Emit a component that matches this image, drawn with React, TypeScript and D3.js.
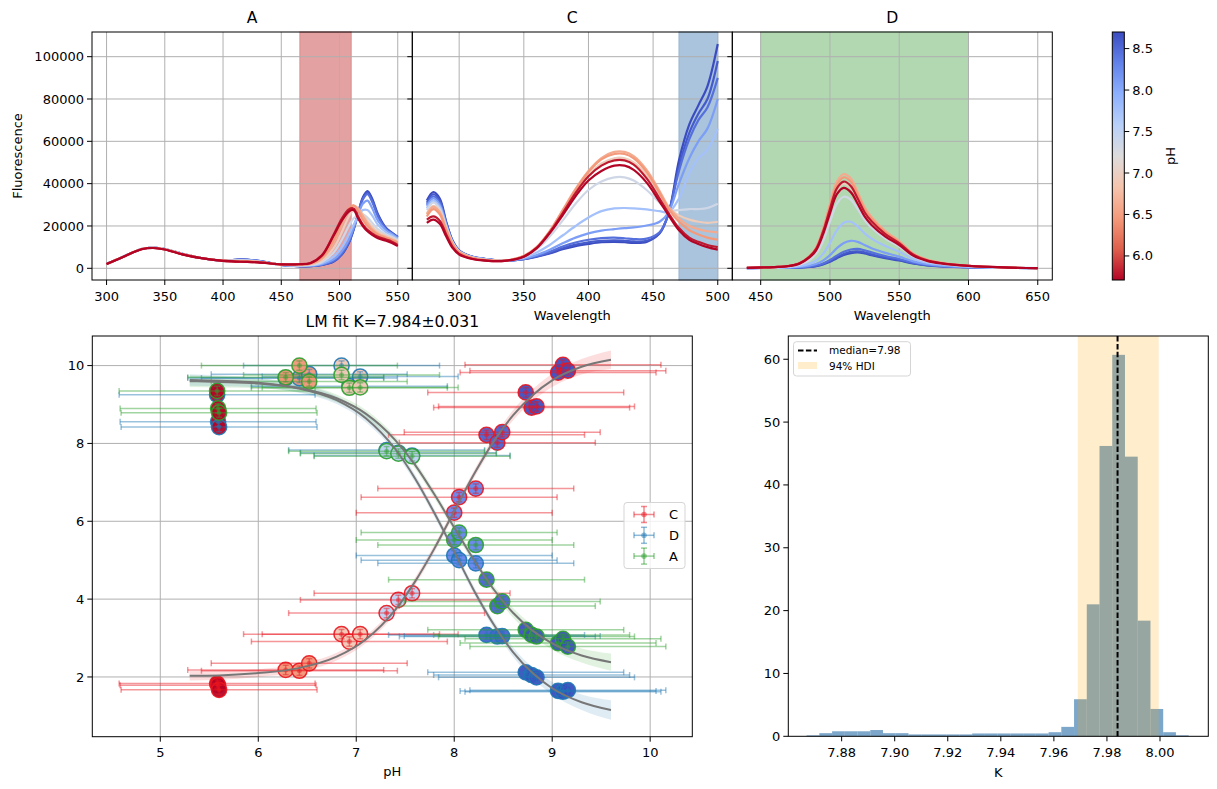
import React from "react";
import * as d3 from "d3";

const FONT = "'DejaVu Sans', Verdana, sans-serif";

// ---------- spectra (fluorescence, thousands) ----------
// pH of each spectrum line, same order in all three panels
const LINE_PH = [5.71, 5.8, 6.45, 6.6, 6.95, 7.35, 7.75, 8.1, 8.45, 8.6, 8.7];

const WL_A = [300, 315, 330, 340, 350, 365, 380, 400, 415, 430, 450, 465, 475, 485, 495, 502, 508, 512, 516, 520, 524, 528, 533, 540, 545, 550];
const SPEC_A = [
  [2.0, 5.6, 9.0, 9.6, 8.9, 6.6, 4.9, 3.5, 3.1, 2.8, 1.9, 1.9, 2.4, 6.0, 15.5, 22.5, 26.8, 27.5, 23.5, 20.0, 17.5, 15.8, 14.2, 13.0, 12.0, 10.5],
  [2.0, 5.6, 9.0, 9.6, 8.9, 6.6, 4.9, 3.5, 3.1, 2.8, 1.9, 1.9, 2.5, 6.3, 16.0, 23.5, 27.8, 28.3, 24.5, 20.8, 18.2, 16.5, 14.9, 13.6, 12.6, 11.0],
  [2.0, 5.6, 9.1, 9.7, 9.0, 6.7, 5.0, 3.6, 3.3, 3.0, 1.8, 1.8, 2.2, 5.2, 13.5, 22.0, 28.3, 29.7, 27.0, 23.0, 20.0, 17.8, 15.8, 14.3, 13.3, 12.0],
  [2.0, 5.6, 9.1, 9.7, 9.0, 6.7, 5.0, 3.6, 3.4, 3.0, 1.8, 1.7, 2.1, 4.6, 12.0, 20.5, 27.5, 29.6, 28.3, 24.8, 21.3, 18.6, 16.4, 14.7, 13.6, 12.3],
  [2.0, 5.6, 9.1, 9.7, 9.0, 6.7, 5.0, 3.6, 3.5, 3.1, 1.7, 1.5, 1.8, 3.8, 9.5, 17.0, 24.5, 27.5, 27.8, 25.5, 22.5, 19.8, 17.3, 15.3, 14.2, 12.8],
  [2.0, 5.6, 9.1, 9.8, 9.1, 6.8, 5.0, 3.6, 3.7, 3.2, 1.7, 1.4, 1.6, 3.0, 7.5, 13.5, 20.0, 23.5, 25.0, 25.5, 24.0, 21.5, 18.5, 16.0, 14.8, 13.2],
  [2.0, 5.6, 9.1, 9.8, 9.1, 6.8, 5.0, 3.6, 3.9, 3.3, 1.6, 1.2, 1.4, 2.4, 5.5, 10.0, 16.0, 20.5, 24.5, 27.5, 27.5, 25.0, 20.5, 17.0, 15.5, 13.8],
  [2.0, 5.6, 9.1, 9.8, 9.1, 6.8, 5.0, 3.6, 4.0, 3.4, 1.6, 1.1, 1.2, 2.0, 4.2, 8.0, 13.5, 19.0, 25.0, 30.5, 32.0, 28.5, 22.5, 18.0, 16.2, 14.3],
  [2.0, 5.6, 9.1, 9.8, 9.1, 6.8, 5.0, 3.6, 4.1, 3.5, 1.6, 1.0, 1.1, 1.7, 3.5, 7.0, 12.5, 18.5, 26.0, 32.5, 35.0, 31.5, 24.5, 18.5, 16.5, 14.6],
  [2.0, 5.6, 9.1, 9.8, 9.1, 6.8, 5.0, 3.6, 4.15, 3.5, 1.6, 1.0, 1.05, 1.65, 3.3, 6.7, 12.2, 18.2, 26.0, 33.0, 35.8, 32.3, 25.0, 18.8, 16.6, 14.7],
  [2.0, 5.6, 9.1, 9.8, 9.1, 6.8, 5.0, 3.6, 4.2, 3.5, 1.6, 1.0, 1.0, 1.6, 3.2, 6.5, 12.0, 18.0, 26.0, 33.5, 36.5, 33.0, 25.5, 19.0, 16.8, 14.8],
];

const WL_C = [275, 280, 285, 290, 295, 300, 310, 320, 335, 350, 360, 370, 380, 390, 400, 410, 420, 428, 435, 445, 455, 462, 470, 478, 485, 492, 500];
const SPEC_C = [
  [21.5, 23.0, 21.0, 15.0, 9.5, 6.5, 4.4, 3.6, 3.5, 5.5, 9.5, 16.5, 25.0, 34.0, 41.5, 46.0, 48.5, 48.5, 46.5, 40.5, 31.5, 25.0, 18.0, 13.5, 11.5, 10.0, 8.8],
  [23.0, 24.5, 22.5, 16.0, 10.0, 6.8, 4.5, 3.7, 3.5, 5.6, 9.7, 17.0, 26.0, 35.5, 43.5, 48.5, 51.0, 51.0, 49.0, 42.5, 33.0, 26.0, 19.0, 14.5, 12.5, 11.0, 10.0],
  [24.5, 28.0, 25.5, 18.0, 11.2, 7.5, 4.9, 3.9, 3.6, 5.8, 10.0, 17.5, 27.0, 37.0, 45.5, 51.5, 54.0, 54.0, 52.0, 45.5, 35.5, 28.0, 22.0, 18.0, 16.0, 14.5, 13.5],
  [25.5, 29.0, 26.5, 18.5, 11.5, 7.6, 5.0, 4.0, 3.6, 5.8, 10.0, 17.5, 27.5, 37.5, 46.0, 52.0, 55.0, 55.0, 53.0, 46.5, 36.5, 29.0, 23.5, 20.0, 18.5, 17.5, 17.0],
  [26.0, 29.5, 27.0, 19.0, 11.8, 7.8, 5.0, 4.0, 3.6, 5.7, 9.8, 17.0, 26.5, 36.0, 44.0, 49.5, 52.0, 52.0, 50.0, 44.0, 35.0, 28.5, 25.0, 23.0, 22.0, 21.5, 22.0],
  [27.5, 31.0, 28.0, 19.5, 12.0, 8.0, 5.2, 4.2, 3.6, 5.5, 9.0, 15.0, 22.5, 30.5, 37.0, 41.0, 43.0, 43.0, 41.5, 37.0, 31.0, 27.5, 27.5, 28.0, 28.0, 28.5, 30.5],
  [28.5, 32.0, 29.0, 20.0, 12.0, 8.0, 5.3, 4.3, 3.6, 5.0, 7.5, 11.0, 15.5, 20.0, 24.0, 27.0, 28.3, 28.5, 28.3, 27.8, 27.0, 26.5, 33.0, 45.0, 52.0, 56.0, 66.0],
  [29.5, 33.0, 30.0, 20.5, 12.3, 8.0, 5.3, 4.3, 3.6, 4.6, 6.3, 8.8, 11.8, 14.5, 16.5, 17.8, 18.5, 19.0, 19.3, 20.2, 22.0, 26.5, 40.0, 52.0, 60.0, 66.0, 80.0],
  [30.0, 34.0, 31.0, 21.0, 12.5, 8.2, 5.4, 4.4, 3.6, 4.4, 5.8, 7.8, 10.3, 12.2, 13.5, 14.3, 14.5, 14.2, 13.8, 14.0, 17.0, 26.0, 46.0, 61.0, 70.0, 76.0, 90.0],
  [31.0, 35.0, 32.0, 21.5, 12.8, 8.3, 5.4, 4.4, 3.6, 4.3, 5.6, 7.3, 9.5, 11.2, 12.3, 13.0, 13.2, 13.0, 12.7, 13.0, 16.5, 26.0, 48.0, 64.0, 73.0, 80.0, 98.0],
  [32.0, 36.0, 33.0, 22.0, 13.0, 8.5, 5.5, 4.5, 3.6, 4.3, 5.5, 7.0, 9.0, 10.5, 11.5, 12.3, 12.5, 12.3, 12.0, 12.5, 16.5, 26.0, 51.0, 68.0, 77.0, 86.0, 106.0],
];

const WL_D = [440, 460, 470, 478, 485, 490, 495, 500, 505, 510, 515, 520, 525, 530, 540, 550, 560, 570, 580, 600, 625, 650];
const SPEC_D = [
  [0.2, 0.6, 1.0, 2.2, 5.0, 8.5, 16.0, 26.0, 35.0, 38.0, 36.0, 30.5, 24.5, 20.5, 15.0, 11.0, 6.0, 3.5, 2.3, 1.1, 0.4, 0.1],
  [0.2, 0.6, 1.1, 2.4, 5.4, 9.2, 17.3, 28.0, 37.8, 41.0, 38.9, 33.0, 26.5, 22.2, 16.2, 11.9, 6.5, 3.8, 2.5, 1.2, 0.4, 0.1],
  [0.2, 0.6, 1.1, 2.4, 5.5, 9.5, 18.0, 29.5, 39.5, 43.0, 41.0, 35.0, 28.0, 23.5, 17.0, 12.5, 6.8, 4.0, 2.6, 1.2, 0.4, 0.1],
  [0.2, 0.6, 1.1, 2.5, 5.6, 9.8, 18.5, 30.5, 41.0, 44.5, 42.5, 36.0, 29.0, 24.3, 17.6, 12.9, 7.0, 4.1, 2.7, 1.2, 0.4, 0.1],
  [0.2, 0.5, 1.0, 2.2, 5.0, 8.8, 16.5, 27.5, 37.0, 40.0, 38.2, 32.5, 26.2, 22.0, 16.0, 11.7, 6.4, 3.7, 2.4, 1.1, 0.4, 0.1],
  [0.1, 0.4, 0.8, 1.7, 3.8, 6.8, 12.8, 22.0, 30.5, 33.8, 32.5, 28.0, 22.8, 19.2, 14.0, 10.3, 5.7, 3.3, 2.2, 1.0, 0.3, 0.1],
  [0.1, 0.3, 0.5, 1.0, 2.1, 3.6, 6.8, 12.0, 18.0, 21.5, 22.0, 19.8, 16.5, 14.0, 10.5, 7.8, 4.5, 2.7, 1.8, 0.8, 0.3, 0.1],
  [0.1, 0.2, 0.3, 0.6, 1.2, 2.0, 3.6, 6.2, 9.5, 12.0, 13.0, 12.5, 11.0, 9.5, 7.3, 5.5, 3.3, 2.0, 1.3, 0.6, 0.2, 0.1],
  [0.1, 0.2, 0.3, 0.4, 0.8, 1.3, 2.3, 3.9, 6.0, 7.8, 8.9, 9.2, 8.5, 7.5, 5.8, 4.4, 2.7, 1.6, 1.1, 0.5, 0.2, 0.1],
  [0.1, 0.2, 0.2, 0.4, 0.7, 1.1, 2.0, 3.4, 5.2, 6.8, 7.8, 8.0, 7.5, 6.6, 5.1, 3.9, 2.4, 1.5, 1.0, 0.5, 0.2, 0.1],
  [0.1, 0.2, 0.2, 0.3, 0.6, 1.0, 1.8, 3.1, 4.8, 6.3, 7.2, 7.5, 7.0, 6.2, 4.8, 3.7, 2.3, 1.4, 0.9, 0.4, 0.2, 0.1],
];

const SPAN_A = [466, 510];
const SPAN_C = [470, 500];
const SPAN_D = [450, 600];

const TICKS_A = [300, 350, 400, 450, 500, 550];
const TICKS_C = [300, 350, 400, 450, 500];
const TICKS_D = [450, 500, 550, 600, 650];
const TICKS_FLUO = [0, 20, 40, 60, 80, 100]; // thousands
const TICKS_CB = [6.0, 6.5, 7.0, 7.5, 8.0, 8.5];

// ---------- titration points ----------
const PH_X = [5.58, 5.59, 5.6, 6.28, 6.42, 6.52, 6.85, 6.93, 7.04, 7.31, 7.43, 7.57, 8.0, 8.05, 8.22, 8.33, 8.44, 8.49, 8.73, 8.79, 8.84, 9.06, 9.11, 9.16];
const PH_NOMINAL = [5.71, 5.71, 5.71, 6.43, 6.43, 6.43, 6.9, 6.9, 6.9, 7.5, 7.5, 7.5, 8.3, 8.3, 8.3, 8.55, 8.55, 8.55, 8.68, 8.68, 8.68, 8.7, 8.7, 8.7];
const C_Y = [1.83, 1.79, 1.67, 2.18, 2.16, 2.35, 3.1, 2.91, 3.1, 3.64, 3.98, 4.15, 6.22, 6.62, 6.84, 8.22, 8.02, 8.29, 9.31, 8.92, 8.95, 9.82, 10.02, 9.87];
const D_Y = [9.25, 8.56, 8.42, 9.68, 9.68, 9.78, 10.0, 9.47, 9.72, 7.83, 7.76, 7.69, 5.12, 5.0, 4.92, 3.08, 3.04, 3.05, 2.12, 2.05, 1.99, 1.64, 1.62, 1.66];
const A_Y = [9.35, 8.9, 8.79, 9.7, 10.0, 9.59, 9.76, 9.43, 9.44, 7.8, 7.74, 7.67, 5.52, 5.71, 5.39, 4.5, 3.82, 3.94, 3.21, 3.08, 3.04, 2.87, 2.98, 2.78];
const X_ERR = 1.0;
const Y_ERR = 0.12;

// fitted curves and their bands
const FIT_X = [5.3, 5.6, 6.0, 6.4, 6.8, 7.1, 7.4, 7.6, 7.8, 8.0, 8.2, 8.4, 8.6, 8.8, 9.0, 9.3, 9.6];
const FIT_C = [2.03, 2.04, 2.1, 2.22, 2.52, 2.97, 3.73, 4.45, 5.31, 6.26, 7.2, 8.04, 8.72, 9.24, 9.62, 9.97, 10.15];
const FIT_D = [9.63, 9.61, 9.56, 9.42, 9.11, 8.64, 7.85, 7.1, 6.2, 5.22, 4.23, 3.36, 2.64, 2.1, 1.71, 1.35, 1.15];
const FIT_A = [9.6, 9.58, 9.54, 9.43, 9.16, 8.76, 8.08, 7.45, 6.68, 5.84, 5.01, 4.26, 3.65, 3.19, 2.86, 2.55, 2.38];
const BAND_C = [0.12, 0.11, 0.1, 0.1, 0.1, 0.1, 0.1, 0.1, 0.1, 0.1, 0.1, 0.11, 0.13, 0.15, 0.17, 0.2, 0.24];
const BAND_D = [0.15, 0.14, 0.12, 0.11, 0.1, 0.1, 0.1, 0.1, 0.1, 0.1, 0.1, 0.1, 0.12, 0.14, 0.16, 0.2, 0.25];
const BAND_A = [0.15, 0.14, 0.12, 0.11, 0.1, 0.1, 0.1, 0.1, 0.1, 0.1, 0.1, 0.1, 0.12, 0.14, 0.16, 0.18, 0.22];

const TICKS_PH = [5, 6, 7, 8, 9, 10];
const TICKS_SIG = [2, 4, 6, 8, 10];

// ---------- posterior of K ----------
const BIN_START = 7.8668;
const BIN_WIDTH = 0.0048;
const K_COUNTS = [0.15, 0.5, 0.8, 0.8, 0.8, 1.0, 0.5, 0.5, 0.3, 0.3, 0.3, 0.3, 0.3, 0.45, 0.45, 0.45, 0.45, 0.45, 0.45, 0.65, 1.5, 5.9, 21.0, 46.2, 60.7, 44.5, 18.4, 4.35, 0.65, 0.15];
const K_MEDIAN = 7.984;
const K_HDI = [7.969, 7.9995];
const TICKS_K = [7.88, 7.9, 7.92, 7.94, 7.96, 7.98, 8.0];
const TICKS_DENS = [0, 10, 20, 30, 40, 50, 60];

// ---------- colours ----------
const CW_STOPS = ["#3b4cc0", "#6282ea", "#8db0fe", "#b8d0f9", "#dddcdc", "#f5c4ad", "#f49a7b", "#de604d", "#b40426"];
const coolwarm = d3
  .scaleLinear<string>()
  .domain(d3.range(9).map((i) => i / 8))
  .range(CW_STOPS)
  .interpolate(d3.interpolateRgb)
  .clamp(true);
const CB_MIN = 5.71;
const CB_MAX = 8.7;
const phColor = (ph: number) => coolwarm(1 - (ph - CB_MIN) / (CB_MAX - CB_MIN));

const GRID = "#b0b0b0";
const TICK_FS = 13;

// ---------- layout ----------
const TOP_Y0 = 32;
const TOP_Y1 = 280;
const yTop = d3.scaleLinear().domain([-5.53, 111.66]).range([TOP_Y1, TOP_Y0]);

const SpectraPanel = ({ left, right, domain, wl, spec, span, spanFill, spanEdge, ticks, title, showY, xLabel }: any) => {
  const x = d3.scaleLinear().domain(domain).range([left, right]);
  const line = d3
    .line<number>()
    .x((_, i) => x(wl[i]))
    .y((d) => yTop(d))
    .curve(d3.curveCatmullRom.alpha(0.5));
  const order = d3.range(LINE_PH.length).reverse();
  return (
    <g>
      <rect x={x(span[0])} y={TOP_Y0} width={x(span[1]) - x(span[0])} height={TOP_Y1 - TOP_Y0} fill={spanFill} stroke={spanEdge} strokeWidth={1} />
      {ticks.map((t: number) => (
        <line key={"gx" + t} x1={x(t)} x2={x(t)} y1={TOP_Y0} y2={TOP_Y1} stroke={GRID} strokeWidth={1} />
      ))}
      {TICKS_FLUO.map((t) => (
        <line key={"gy" + t} x1={left} x2={right} y1={yTop(t)} y2={yTop(t)} stroke={GRID} strokeWidth={1} />
      ))}
      {order.map((i) => (
        <path key={i} d={line(spec[i]) || ""} fill="none" stroke={phColor(LINE_PH[i])} strokeWidth={2.2} strokeLinejoin="round" />
      ))}
      <rect x={left} y={TOP_Y0} width={right - left} height={TOP_Y1 - TOP_Y0} fill="none" stroke="#000" strokeWidth={1} />
      {ticks.map((t: number) => (
        <g key={"tx" + t}>
          <line x1={x(t)} x2={x(t)} y1={TOP_Y1} y2={TOP_Y1 + 5} stroke="#000" />
          <text x={x(t)} y={TOP_Y1 + 16} dy="0.35em" textAnchor="middle" fontSize={TICK_FS}>
            {t}
          </text>
        </g>
      ))}
      {TICKS_FLUO.map((t) => (
        <g key={"ty" + t}>
          <line x1={left - 5} x2={left} y1={yTop(t)} y2={yTop(t)} stroke="#000" />
          {showY && (
            <text x={left - 8} y={yTop(t)} dy="0.35em" textAnchor="end" fontSize={TICK_FS}>
              {t * 1000}
            </text>
          )}
        </g>
      ))}
      <text x={(left + right) / 2} y={TOP_Y0 - 14} dy="0.35em" textAnchor="middle" fontSize={15.6}>
        {title}
      </text>
      {xLabel && (
        <text x={(left + right) / 2} y={TOP_Y1 + 35} dy="0.35em" textAnchor="middle" fontSize={TICK_FS}>
          {xLabel}
        </text>
      )}
    </g>
  );
};

const Colorbar = () => {
  const x0 = 1112.3;
  const x1 = 1124.3;
  const y = d3.scaleLinear().domain([CB_MIN, CB_MAX]).range([TOP_Y1, TOP_Y0]);
  return (
    <g>
      <defs>
        <linearGradient id="cbgrad" x1="0" y1="1" x2="0" y2="0">
          {CW_STOPS.map((_, k) => (
            <stop key={k} offset={k / 8} stopColor={CW_STOPS[8 - k]} />
          ))}
        </linearGradient>
      </defs>
      <rect x={x0} y={TOP_Y0} width={x1 - x0} height={TOP_Y1 - TOP_Y0} fill="url(#cbgrad)" stroke="#000" strokeWidth={1} />
      {TICKS_CB.map((t) => (
        <g key={t}>
          <line x1={x1} x2={x1 + 5} y1={y(t)} y2={y(t)} stroke="#000" />
          <text x={x1 + 8} y={y(t)} dy="0.35em" fontSize={TICK_FS}>
            {t.toFixed(1)}
          </text>
        </g>
      ))}
      <text transform={`translate(1170,${(TOP_Y0 + TOP_Y1) / 2}) rotate(-90)`} dy="0.35em" textAnchor="middle" fontSize={TICK_FS}>
        pH
      </text>
    </g>
  );
};

const SERIES = [
  { name: "C", color: "#e8161f", y: C_Y, fit: FIT_C, band: BAND_C },
  { name: "D", color: "#1f77b4", y: D_Y, fit: FIT_D, band: BAND_D },
  { name: "A", color: "#2ca02c", y: A_Y, fit: FIT_A, band: BAND_A },
];

const Titration = () => {
  const L = 92.3, R = 692.3, T = 336, B = 736.7;
  const x = d3.scaleLinear().domain([4.306, 10.43]).range([L, R]);
  const y = d3.scaleLinear().domain([0.465, 10.76]).range([B, T]);
  const fitLine = (ys: number[]) =>
    d3.line<number>().x((_, i) => x(FIT_X[i])).y((d) => y(d)).curve(d3.curveMonotoneX)(ys) || "";
  const band = (ys: number[], hw: number[]) =>
    d3
      .area<number>()
      .x((_, i) => x(FIT_X[i]))
      .y0((d, i) => y(d - hw[i]))
      .y1((d, i) => y(d + hw[i]))
      .curve(d3.curveMonotoneX)(ys) || "";
  const cap = 3;
  return (
    <g>
      {TICKS_PH.map((t) => (
        <line key={"gx" + t} x1={x(t)} x2={x(t)} y1={T} y2={B} stroke={GRID} />
      ))}
      {TICKS_SIG.map((t) => (
        <line key={"gy" + t} x1={L} x2={R} y1={y(t)} y2={y(t)} stroke={GRID} />
      ))}
      {SERIES.map((s) => (
        <path key={"b" + s.name} d={band(s.fit, s.band)} fill={s.color} fillOpacity={0.14} />
      ))}
      {SERIES.map((s) => (
        <g key={"pts" + s.name}>
          {PH_X.map((px, i) => (
            <circle key={i} cx={x(px)} cy={y(s.y[i])} r={7.6} fill={phColor(PH_NOMINAL[i])} fillOpacity={0.95} stroke={s.color} strokeOpacity={0.9} strokeWidth={1.5} />
          ))}
          {PH_X.map((px, i) => {
            const cx = x(px);
            const cy = y(s.y[i]);
            const xa = x(px - X_ERR);
            const xb = x(px + X_ERR);
            const ya = y(s.y[i] - Y_ERR);
            const yb = y(s.y[i] + Y_ERR);
            return (
              <g key={"e" + i} stroke={s.color} strokeOpacity={0.45} strokeWidth={1.5}>
                <line x1={xa} x2={xb} y1={cy} y2={cy} />
                <line x1={xa} x2={xa} y1={cy - cap} y2={cy + cap} />
                <line x1={xb} x2={xb} y1={cy - cap} y2={cy + cap} />
                <line x1={cx} x2={cx} y1={ya} y2={yb} />
                <line x1={cx - cap} x2={cx + cap} y1={ya} y2={ya} />
                <line x1={cx - cap} x2={cx + cap} y1={yb} y2={yb} />
                <circle cx={cx} cy={cy} r={2.5} fill={s.color} fillOpacity={0.45} stroke="none" />
              </g>
            );
          })}
        </g>
      ))}
      {SERIES.map((s) => (
        <path key={"f" + s.name} d={fitLine(s.fit)} fill="none" stroke="#777" strokeWidth={2} />
      ))}
      <rect x={L} y={T} width={R - L} height={B - T} fill="none" stroke="#000" />
      {TICKS_PH.map((t) => (
        <g key={"tx" + t}>
          <line x1={x(t)} x2={x(t)} y1={B} y2={B + 5} stroke="#000" />
          <text x={x(t)} y={B + 16} dy="0.35em" textAnchor="middle" fontSize={TICK_FS}>
            {t}
          </text>
        </g>
      ))}
      {TICKS_SIG.map((t) => (
        <g key={"ty" + t}>
          <line x1={L - 5} x2={L} y1={y(t)} y2={y(t)} stroke="#000" />
          <text x={L - 8} y={y(t)} dy="0.35em" textAnchor="end" fontSize={TICK_FS}>
            {t}
          </text>
        </g>
      ))}
      <text x={(L + R) / 2} y={T - 14} dy="0.35em" textAnchor="middle" fontSize={15.6}>
        LM fit K=7.984±0.031
      </text>
      <text x={(L + R) / 2} y={B + 35} dy="0.35em" textAnchor="middle" fontSize={TICK_FS}>
        pH
      </text>
      {/* legend */}
      <rect x={624} y={502.5} width={61} height={66} rx={3} fill="#fff" fillOpacity={0.8} stroke="#d5d5d5" />
      {SERIES.map((s, k) => {
        const cy = 514.5 + k * 20.8;
        const cx = 644;
        return (
          <g key={"lg" + s.name}>
            <g stroke={s.color} strokeOpacity={0.5} strokeWidth={1.5}>
              <line x1={cx - 10} x2={cx + 10} y1={cy} y2={cy} />
              <line x1={cx - 10} x2={cx - 10} y1={cy - 3} y2={cy + 3} />
              <line x1={cx + 10} x2={cx + 10} y1={cy - 3} y2={cy + 3} />
              <line x1={cx} x2={cx} y1={cy - 8} y2={cy + 8} />
              <line x1={cx - 3} x2={cx + 3} y1={cy - 8} y2={cy - 8} />
              <line x1={cx - 3} x2={cx + 3} y1={cy + 8} y2={cy + 8} />
            </g>
            <circle cx={cx} cy={cy} r={2.8} fill={s.color} fillOpacity={0.5} />
            <text x={669} y={cy} dy="0.35em" fontSize={TICK_FS}>
              {s.name}
            </text>
          </g>
        );
      })}
    </g>
  );
};

const Posterior = () => {
  const L = 788.3, R = 1208.3, T = 336, B = 736.3;
  const x = d3.scaleLinear().domain([7.8599, 8.0182]).range([L, R]);
  const y = d3.scaleLinear().domain([0, 63.7]).range([B, T]);
  const fmt = d3.format(".2f");
  return (
    <g>
      {K_COUNTS.map((c, i) => {
        const a = BIN_START + i * BIN_WIDTH;
        return <rect key={i} x={x(a)} y={y(c)} width={x(a + BIN_WIDTH) - x(a)} height={y(0) - y(c)} fill="steelblue" fillOpacity={0.7} />;
      })}
      <rect x={x(K_HDI[0])} y={T} width={x(K_HDI[1]) - x(K_HDI[0])} height={B - T} fill="orange" fillOpacity={0.2} />
      <line x1={x(K_MEDIAN)} x2={x(K_MEDIAN)} y1={T} y2={B} stroke="#000" strokeWidth={2} strokeDasharray="5.5,2.4" />
      <rect x={L} y={T} width={R - L} height={B - T} fill="none" stroke="#000" />
      {TICKS_K.map((t) => (
        <g key={"tx" + t}>
          <line x1={x(t)} x2={x(t)} y1={B} y2={B + 5} stroke="#000" />
          <text x={x(t)} y={B + 16} dy="0.35em" textAnchor="middle" fontSize={TICK_FS}>
            {fmt(t)}
          </text>
        </g>
      ))}
      {TICKS_DENS.map((t) => (
        <g key={"ty" + t}>
          <line x1={L - 5} x2={L} y1={y(t)} y2={y(t)} stroke="#000" />
          <text x={L - 8} y={y(t)} dy="0.35em" textAnchor="end" fontSize={TICK_FS}>
            {t}
          </text>
        </g>
      ))}
      <text x={(L + R) / 2} y={B + 36} dy="0.35em" textAnchor="middle" fontSize={TICK_FS}>
        K
      </text>
      {/* legend */}
      <rect x={793.5} y={341.7} width={117} height={34.3} rx={3} fill="#fff" fillOpacity={0.8} stroke="#d5d5d5" />
      <line x1={798} x2={817} y1={350.5} y2={350.5} stroke="#000" strokeWidth={2} strokeDasharray="5.5,2.4" />
      <text x={829} y={350.5} dy="0.35em" fontSize={10.5}>
        median=7.98
      </text>
      <rect x={798} y={362} width={19} height={7} fill="orange" fillOpacity={0.2} />
      <text x={829} y={366} dy="0.35em" fontSize={10.5}>
        94% HDI
      </text>
    </g>
  );
};

export default function App() {
  return (
    <div style={{ position: "absolute", left: 0, top: 0 }}>
      <svg width={1217} height={789} style={{ display: "block", background: "#fff" }} fontFamily={FONT}>
        <SpectraPanel left={92} right={412.3} domain={[287.5, 562.5]} wl={WL_A} spec={SPEC_A} span={SPAN_A} spanFill="#e4a1a1" spanEdge="#dc8a8a" ticks={TICKS_A} title="A" showY />
        <SpectraPanel left={412.3} right={732.3} domain={[263.75, 511.25]} wl={WL_C} spec={SPEC_C} span={SPAN_C} spanFill="#a9c4dc" spanEdge="#9bb8d2" ticks={TICKS_C} title="C" xLabel="Wavelength" />
        <SpectraPanel left={732.3} right={1052.3} domain={[429.5, 660.5]} wl={WL_D} spec={SPEC_D} span={SPAN_D} spanFill="#b2d8b2" spanEdge="#b2d8b2" ticks={TICKS_D} title="D" xLabel="Wavelength" />
        <text transform={`translate(17,${(TOP_Y0 + TOP_Y1) / 2}) rotate(-90)`} dy="0.35em" textAnchor="middle" fontSize={TICK_FS}>
          Fluorescence
        </text>
        <Colorbar />
        <Titration />
        <Posterior />
      </svg>
    </div>
  );
}
